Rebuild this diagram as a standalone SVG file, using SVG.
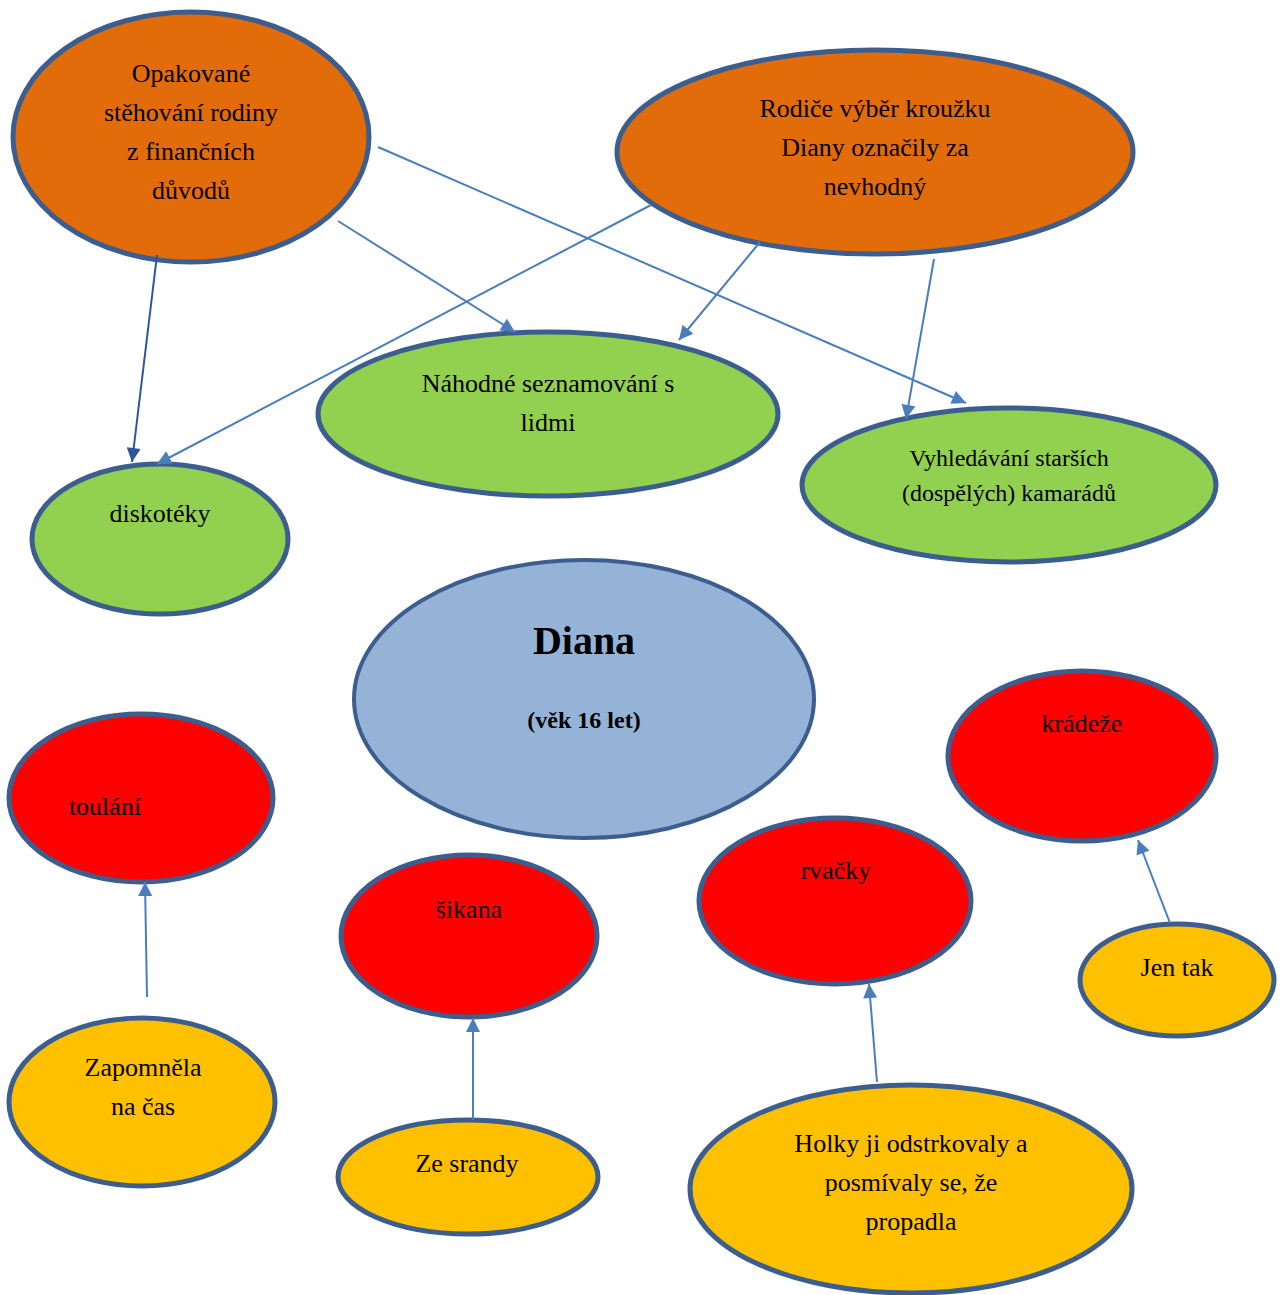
<svg xmlns="http://www.w3.org/2000/svg" width="1286" height="1295" viewBox="0 0 1286 1295">
<defs>
<style>
.n{stroke:#3C5E8F;stroke-width:5}
.or{fill:#E36C0A}.gr{fill:#92D050}.bl{fill:#95B3D7;stroke-width:4}.rd{fill:#FF0000}.ye{fill:#FFC000}
.t text{font-family:'Liberation Serif','Times New Roman',Times,serif;font-size:26px;fill:#000;text-anchor:middle}
.t .b{font-weight:bold}
.c{stroke:#4A7EBB;stroke-width:2;fill:none;marker-end:url(#ah)}
.cd{stroke:#2F559A;stroke-width:2;fill:none;marker-end:url(#ahd)}
</style>
<marker id="ah" viewBox="0 0 10 10" refX="10" refY="5" markerWidth="8.5" markerHeight="7" markerUnits="strokeWidth" orient="auto"><path d="M0,0 L10,5 L0,10 z" fill="#4A7EBB"/></marker>
<marker id="ahd" viewBox="0 0 10 10" refX="10" refY="5" markerWidth="8.5" markerHeight="7" markerUnits="strokeWidth" orient="auto"><path d="M0,0 L10,5 L0,10 z" fill="#2F559A"/></marker>
</defs>
<rect width="1286" height="1295" fill="#fff"/>
<g class="t">
<g id="n1"><ellipse class="n or" cx="191" cy="137" rx="178" ry="125"/><text x="191" y="82">Opakované</text><text x="191" y="121">stěhování rodiny</text><text x="191" y="160">z finančních</text><text x="191" y="199">důvodů</text></g>
<g id="n2"><ellipse class="n or" cx="875" cy="152" rx="258" ry="102"/><text x="875" y="117">Rodiče výběr kroužku</text><text x="875" y="156">Diany označily za</text><text x="875" y="195">nevhodný</text></g>
<g id="n3"><ellipse class="n gr" cx="548" cy="414" rx="230" ry="82"/><text x="548" y="392">Náhodné seznamování s</text><text x="548" y="431">lidmi</text></g>
<g id="n4"><ellipse class="n gr" cx="1009" cy="485" rx="207" ry="77"/><text x="1009" y="466" style="font-size:24px">Vyhledávání starších</text><text x="1009" y="501" style="font-size:24px">(dospělých) kamarádů</text></g>
<g id="n5"><ellipse class="n gr" cx="160" cy="539" rx="128" ry="75"/><text x="160" y="522">diskotéky</text></g>
<g id="n6"><ellipse class="n bl" cx="584" cy="699" rx="230" ry="139"/><text class="b" x="584" y="654" style="font-size:40px">Diana</text><text class="b" x="584" y="728" style="font-size:24px">(věk 16 let)</text></g>
<g id="n7"><ellipse class="n rd" cx="1082" cy="756" rx="134" ry="85"/><text x="1082" y="732">krádeže</text></g>
<g id="n8"><ellipse class="n rd" cx="141" cy="798" rx="132" ry="84"/><text x="105" y="815">toulání</text></g>
<g id="n9"><ellipse class="n rd" cx="835" cy="901" rx="136" ry="83"/><text x="836" y="879">rvačky</text></g>
<g id="n10"><ellipse class="n rd" cx="469" cy="936" rx="128" ry="81"/><text x="469" y="918">šikana</text></g>
<g id="n11"><ellipse class="n ye" cx="1177" cy="980" rx="97" ry="56"/><text x="1177" y="976">Jen tak</text></g>
<g id="n12"><ellipse class="n ye" cx="142" cy="1102" rx="133" ry="84"/><text x="143" y="1076">Zapomněla</text><text x="143" y="1115">na čas</text></g>
<g id="n13"><ellipse class="n ye" cx="468" cy="1177" rx="130" ry="57"/><text x="467" y="1172">Ze srandy</text></g>
<g id="n14"><ellipse class="n ye" cx="911" cy="1189" rx="221" ry="104"/><text x="911" y="1152">Holky ji odstrkovaly a</text><text x="911" y="1191">posmívaly se, že</text><text x="911" y="1230">propadla</text></g>
</g>
<g id="connectors">
<line class="cd" x1="157" y1="255" x2="132" y2="462"/>
<line class="c" x1="338" y1="221" x2="515" y2="332"/>
<line class="c" x1="378" y1="147" x2="966" y2="403"/>
<line class="c" x1="651" y1="205" x2="157" y2="464"/>
<line class="c" x1="760" y1="242" x2="679" y2="340"/>
<line class="c" x1="934" y1="259" x2="906" y2="419"/>
<line class="c" x1="147" y1="997" x2="145" y2="882"/>
<line class="c" x1="473" y1="1120" x2="473" y2="1018"/>
<line class="c" x1="877" y1="1082" x2="869" y2="984"/>
<line class="c" x1="1170" y1="923" x2="1138" y2="840"/>
</g>
</svg>
